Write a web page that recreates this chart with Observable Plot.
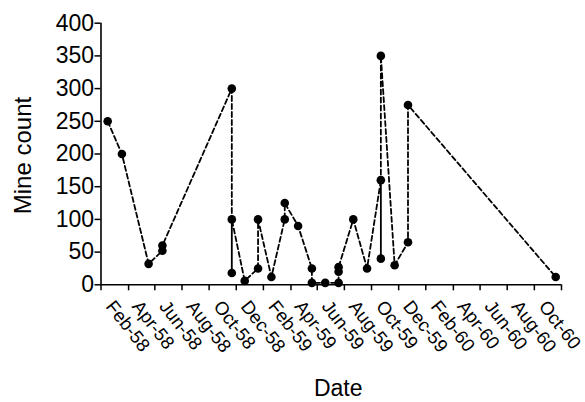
<!DOCTYPE html>
<html>
<head>
<meta charset="utf-8">
<script src="https://cdn.jsdelivr.net/npm/d3@7"></script>
<script src="https://cdn.jsdelivr.net/npm/@observablehq/plot@0.6"></script>
<style>
  html, body { margin: 0; padding: 0; background: #fff; }
  #chart svg { display: block; }
</style>
</head>
<body>
<div id="chart"></div>
<script>
// ---- data ----
const sampleDates = [
  "1957-12-16", "1958-01-17", "1958-03-18", "1958-04-18", "1958-04-18",
  "1958-09-21", "1958-09-21", "1958-09-21", "1958-10-20", "1958-11-19",
  "1958-11-19", "1958-12-19", "1959-01-18", "1959-01-18", "1959-02-17",
  "1959-03-20", "1959-03-20", "1959-04-19", "1959-05-19", "1959-05-19",
  "1959-05-19", "1959-06-21", "1959-07-22", "1959-08-22", "1959-08-22",
  "1959-08-22", "1959-09-22", "1959-10-22", "1959-10-22", "1960-09-18"
];
const mineCounts = [
  250, 200, 32, 52, 60,
  300, 18, 100, 6, 25,
  100, 12, 100, 125, 90,
  25, 3, 3, 3, 20,
  27, 100, 25, 160, 40,
  350, 30, 65, 275, 12
];
const xTickLabels = [
  "Feb-58", "Apr-58", "Jun-58", "Aug-58", "Oct-58", "Dec-58",
  "Feb-59", "Apr-59", "Jun-59", "Aug-59", "Oct-59", "Dec-59",
  "Feb-60", "Apr-60", "Jun-60", "Aug-60", "Oct-60"
];
const xStartLabel = "Dec-57";
const xEndLabel = "Oct-60";
const yTicks = [0, 50, 100, 150, 200, 250, 300, 350, 400];
const yLabel = "Mine count";
const xLabel = "Date";

// ---- helpers ----
const months = ["Jan","Feb","Mar","Apr","May","Jun","Jul","Aug","Sep","Oct","Nov","Dec"];
function parseLabel(s) {
  const [m, y] = s.split("-");
  return new Date(1900 + (+y), months.indexOf(m), 1);
}
function parseISO(s) {
  const [y, m, d] = s.split("-").map(Number);
  return new Date(y, m - 1, d);
}
const data = sampleDates.map((d, i) => ({date: parseISO(d), count: mineCounts[i]}));
const tickDates = [xStartLabel, ...xTickLabels].map(parseLabel);
const xDomain = [parseLabel(xStartLabel), parseLabel(xEndLabel)];
const font = "'Liberation Sans', Arial, Helvetica, sans-serif";

const chart = Plot.plot({
  width: 585,
  height: 402,
  marginLeft: 100.5,
  marginRight: 24,
  marginTop: 22.7,
  marginBottom: 117.7,
  style: {fontFamily: font, fontSize: "23px", color: "#000", background: "#fff"},
  x: {type: "time", domain: xDomain, axis: null},
  y: {domain: [0, 400], axis: null},
  marks: [
    Plot.axisY({ticks: yTicks, tickSize: 6, tickPadding: 1, label: null, strokeWidth: 1.5, fontSize: 23}),
    Plot.axisX({ticks: tickDates, tickSize: 6, tickFormat: () => "", label: null, strokeWidth: 1.5}),
    Plot.ruleY([0], {stroke: "#000", strokeWidth: 1.6}),
    Plot.ruleX([xDomain[0]], {y1: 0, y2: 400, stroke: "#000", strokeWidth: 1.6}),
    Plot.line(data, {x: "date", y: "count", stroke: "#000", strokeWidth: 1.8, strokeDasharray: "5,3", curve: "linear"}),
    Plot.dot(data, {x: "date", y: "count", r: 4.3, fill: "#000", stroke: "none"}),
    Plot.text(xTickLabels, {
      x: d => parseLabel(d), frameAnchor: "bottom", text: d => d,
      rotate: 52, textAnchor: "start", lineAnchor: "bottom",
      dx: -23.5, dy: 22, fontSize: 18.5, fill: "#000"
    }),
    Plot.text([yLabel], {
      frameAnchor: "left", text: d => d, rotate: -90, textAnchor: "middle",
      lineAnchor: "bottom", dx: -70.5, dy: 1.5, fontSize: 24, fill: "#000"
    }),
    Plot.text([xLabel], {
      frameAnchor: "bottom", text: d => d, textAnchor: "middle",
      lineAnchor: "bottom", dx: 7, dy: 110.7, fontSize: 23, fill: "#000"
    })
  ]
});
document.getElementById("chart").appendChild(chart);
</script>
</body>
</html>
